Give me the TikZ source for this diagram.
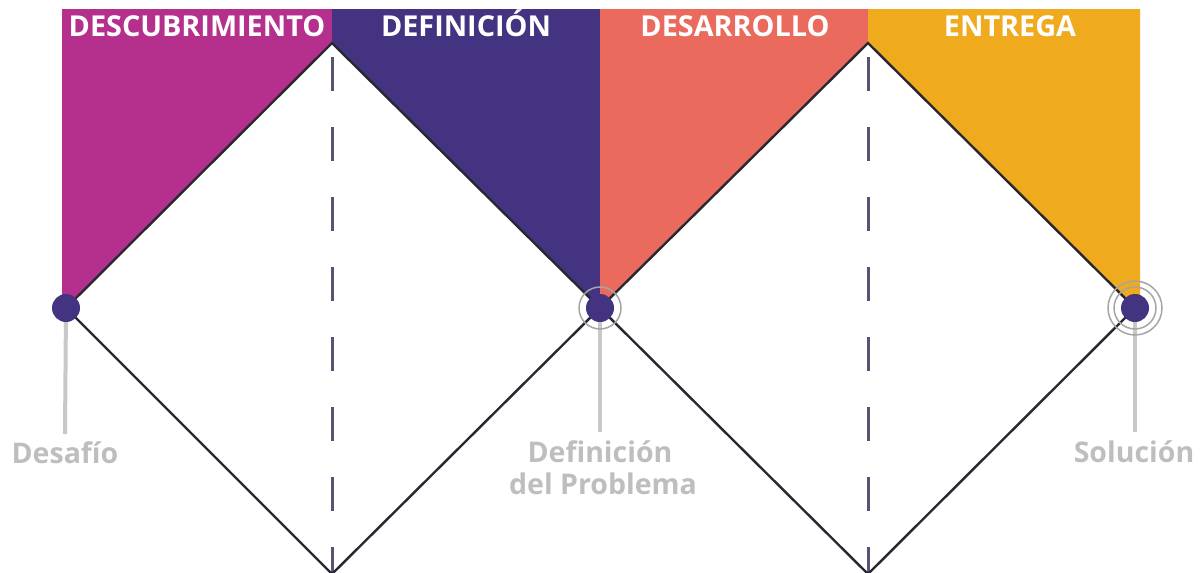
\documentclass[tikz,border=0pt]{standalone}
\usepackage{fontspec}
\setmainfont{Open Sans}
\definecolor{cmag}{RGB}{180,48,140}
\definecolor{cind}{RGB}{68,51,128}
\definecolor{ccor}{RGB}{234,106,94}
\definecolor{cyel}{RGB}{240,170,30}
\definecolor{cdash}{RGB}{85,85,115}
\definecolor{cstem}{RGB}{200,200,200}
\definecolor{clab}{RGB}{190,190,190}
\definecolor{cring}{RGB}{165,165,165}
\tikzset{
  edgeline/.style={line width=2.4pt, draw={rgb,255:red,40;green,40;blue,50}},
  dashline/.style={line width=3pt, draw=cdash, dash pattern=on 34pt off 36pt},
  stemline/.style={line width=4pt, draw=cstem},
  dotnode/.style={circle, fill=cind, minimum size=28pt, inner sep=0pt},
  ringline/.style={line width=1.5pt, draw=cring},
  header/.style={anchor=base, text=white, font=\bfseries\fontsize{28.8}{33}\selectfont},
  label/.style={anchor=base, text=clab, font=\bfseries\fontsize{28.5}{33}\selectfont, align=center}
}
\begin{document}
\begin{tikzpicture}[x=1pt,y=-1pt]
\useasboundingbox (0,0) rectangle (1203,573);
% vertices
\coordinate (t1) at (332,43);
\coordinate (b1) at (332,574);
\coordinate (t2) at (868,43);
\coordinate (b2) at (868,574);
\coordinate (p1) at (66,308);
\coordinate (p2) at (600,308);
\coordinate (p3) at (1135,308);
% colour bands
\fill[cmag] (62,9) -- (332,9) -- (t1) -- (p1) -- (62,308) -- cycle;
\fill[cind] (332,9) -- (600,9) -- (p2) -- (t1) -- cycle;
\fill[ccor] (600,9) -- (868,9) -- (t2) -- (p2) -- cycle;
\fill[cyel] (868,9) -- (1140,9) -- (1140,308) -- (p3) -- (t2) -- cycle;
% dashed dividers
\coordinate (dt1) at (332,57);
\coordinate (dt2) at (868,57);
\draw[dashline] (dt1) -- (b1);
\draw[dashline] (dt2) -- (b2);
% diamonds
\draw[edgeline, line join=miter] (p1) -- (t1) -- (p2) -- (b1) -- cycle;
\draw[edgeline, line join=miter] (p2) -- (t2) -- (p3) -- (b2) -- cycle;
% stems
\coordinate (s1) at (65,434);
\coordinate (s2) at (600,432);
\coordinate (s3) at (1135,432);
\draw[stemline] (p1) -- (s1);
\draw[stemline] (p2) -- (s2);
\draw[stemline] (p3) -- (s3);
% rings
\draw[ringline] (p2) circle[radius=21pt];
\draw[ringline] (p3) circle[radius=21pt];
\draw[ringline] (p3) circle[radius=27pt];
% dots
\node[dotnode] (d1) at (p1) {};
\node[dotnode] (d2) at (p2) {};
\node[dotnode] (d3) at (p3) {};
% headers
\node[header] (h1) at (197,36) {DESCUBRIMIENTO};
\node[header] (h2) at (466,36) {DEFINICIÓN};
\node[header] (h3) at (735,36) {DESARROLLO};
\node[header] (h4) at (1010,36) {ENTREGA};
% labels
\node[label] (l1) at (65,463) {Desafío};
\node[label] (l2) at (600,462) {Definición};
\node[label] (l2b) at (603,494) {del Problema};
\node[label] (l3) at (1134,462) {Solución};
\end{tikzpicture}
\end{document}
